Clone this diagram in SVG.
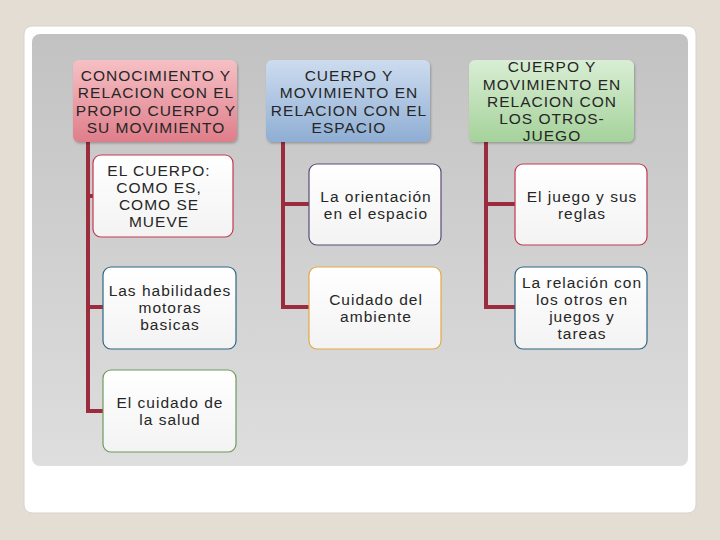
<svg xmlns="http://www.w3.org/2000/svg" width="720" height="540" viewBox="0 0 720 540">
<defs>
<linearGradient id="panel" x1="0" y1="0" x2="0" y2="1"><stop offset="0" stop-color="#c2c2c2"/><stop offset="1" stop-color="#dedede"/></linearGradient>
<linearGradient id="pink" x1="0" y1="0" x2="0" y2="1"><stop offset="0" stop-color="#f6c0c5"/><stop offset="1" stop-color="#df7e8a"/></linearGradient>
<linearGradient id="blue" x1="0" y1="0" x2="0" y2="1"><stop offset="0" stop-color="#cddcef"/><stop offset="1" stop-color="#8faed4"/></linearGradient>
<linearGradient id="green" x1="0" y1="0" x2="0" y2="1"><stop offset="0" stop-color="#d9eed4"/><stop offset="1" stop-color="#a5d29b"/></linearGradient>
<linearGradient id="box" x1="0" y1="0" x2="0" y2="1"><stop offset="0" stop-color="#ffffff"/><stop offset="1" stop-color="#f3f3f3"/></linearGradient>
<filter id="sh" x="-10%" y="-10%" width="130%" height="130%"><feDropShadow dx="1" dy="1.5" stdDeviation="1.2" flood-color="#000" flood-opacity="0.25"/></filter>
</defs>
<style>
text{font-family:"Liberation Sans",Arial,sans-serif;font-size:15.5px;letter-spacing:1px;fill:#262626;text-anchor:middle}
.conn{stroke:#9a2c3e;stroke-width:4;fill:none}
.box{fill:url(#box);stroke-width:1.2}
</style>
<rect width="720" height="540" fill="#e3ddd3"/>
<rect x="24" y="26" width="672" height="487" rx="8" fill="#ffffff" stroke="#d8d4cc"/>
<rect x="32" y="34" width="656" height="432" rx="8" fill="url(#panel)"/>

<g id="connectors">
<path class="conn" d="M88,142 V411 H103 M88,196 H93 M88,307 H103"/>
<path class="conn" d="M283,142 V307 H309 M283,204 H309"/>
<path class="conn" d="M486,142 V307 H515 M486,204 H515"/>
</g>

<g id="h1">
<rect x="73" y="60" width="164" height="82" rx="6" fill="url(#pink)" filter="url(#sh)"/>
<text x="156" y="81">CONOCIMIENTO Y</text>
<text x="156" y="98">RELACION CON EL</text>
<text x="156" y="116">PROPIO CUERPO Y</text>
<text x="156" y="133">SU MOVIMIENTO</text>
</g>
<g id="h2">
<rect x="266" y="60" width="164" height="82" rx="6" fill="url(#blue)" filter="url(#sh)"/>
<text x="349" y="81">CUERPO Y</text>
<text x="349" y="98">MOVIMIENTO EN</text>
<text x="349" y="116">RELACION CON EL</text>
<text x="349" y="133">ESPACIO</text>
</g>
<g id="h3">
<rect x="469" y="60" width="165" height="82" rx="6" fill="url(#green)" filter="url(#sh)"/>
<text x="552" y="72">CUERPO Y</text>
<text x="552" y="90">MOVIMIENTO EN</text>
<text x="552" y="107">RELACION CON</text>
<text x="552" y="124">LOS OTROS-</text>
<text x="552" y="141">JUEGO</text>
</g>

<g id="b1">
<rect class="box" x="93" y="155" width="140" height="82" rx="8" stroke="#c23a52"/>
<text x="159" y="176">EL CUERPO:</text>
<text x="159" y="193">COMO ES,</text>
<text x="159" y="210">COMO SE</text>
<text x="159" y="227">MUEVE</text>
</g>
<g id="b2">
<rect class="box" x="103" y="267" width="133" height="82" rx="8" stroke="#2f6784"/>
<text x="170" y="296">Las habilidades</text>
<text x="170" y="313">motoras</text>
<text x="170" y="330">basicas</text>
</g>
<g id="b3">
<rect class="box" x="103" y="370" width="133" height="82" rx="8" stroke="#6f9a5e"/>
<text x="170" y="408">El cuidado de</text>
<text x="170" y="425">la salud</text>
</g>
<g id="b4">
<rect class="box" x="309" y="164" width="132" height="81" rx="8" stroke="#5a4a78"/>
<text x="376" y="202">La orientación</text>
<text x="376" y="219">en el espacio</text>
</g>
<g id="b5">
<rect class="box" x="309" y="267" width="132" height="82" rx="8" stroke="#e3a84a"/>
<text x="376" y="305">Cuidado del</text>
<text x="376" y="322">ambiente</text>
</g>
<g id="b6">
<rect class="box" x="515" y="164" width="132" height="81" rx="8" stroke="#c23a52"/>
<text x="582" y="202">El juego y sus</text>
<text x="582" y="219">reglas</text>
</g>
<g id="b7">
<rect class="box" x="515" y="267" width="132" height="82" rx="8" stroke="#2f6784"/>
<text x="582" y="288">La relación con</text>
<text x="582" y="305">los otros en</text>
<text x="582" y="322">juegos y</text>
<text x="582" y="339">tareas</text>
</g>
</svg>
